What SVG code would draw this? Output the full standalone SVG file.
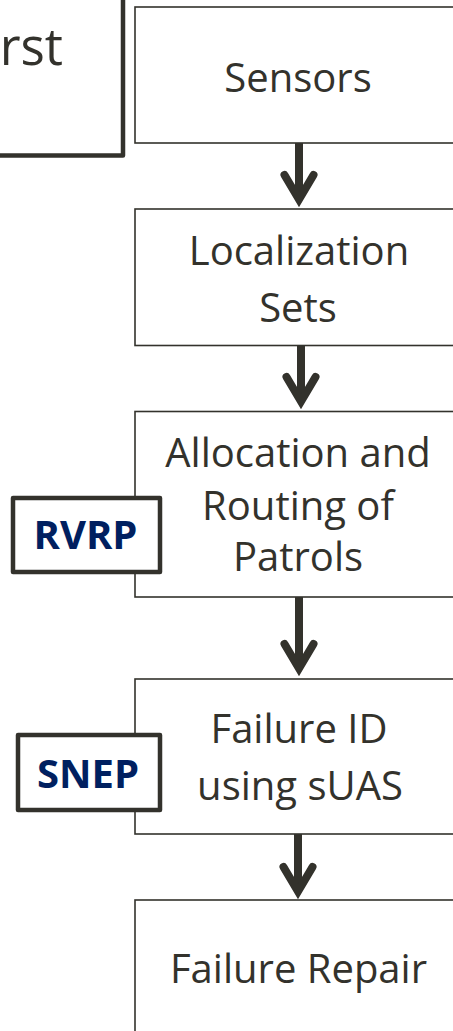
<svg xmlns="http://www.w3.org/2000/svg" width="453" height="1031" viewBox="0 0 453 1031">
<style>
.box{fill:#fff;stroke:#33322c;stroke-width:1.6}
.tag{fill:#fff;stroke:#33322c;stroke-width:4.5;stroke-linejoin:round}
.t{font-family:"Open Sans","Noto Sans",sans-serif;font-size:40px;fill:#33322c;text-anchor:middle}
.b{font-family:"Open Sans","Noto Sans",sans-serif;font-size:40px;font-weight:bold;fill:#002060;text-anchor:middle}
.shaft{stroke:#33322c;stroke-width:8;fill:none}
.head{stroke:#33322c;stroke-width:8;fill:none;stroke-linecap:round;stroke-linejoin:miter;stroke-miterlimit:10}
</style>
<rect width="453" height="1031" fill="#fff"/>
<g id="first">
<rect class="tag" x="-10" y="-10" width="133" height="165.5"/>
<text class="t" x="63" y="65" style="font-size:51px;text-anchor:end">rst</text>
</g>
<g id="sensors">
<rect class="box" x="135" y="7" width="330" height="136"/>
<text class="t" x="298" y="92">Sensors</text>
</g>
<g id="localization">
<rect class="box" x="135" y="209" width="330" height="136.5"/>
<text class="t" x="299" y="265">Localization</text>
<text class="t" x="298" y="322">Sets</text>
</g>
<g id="allocation">
<rect class="box" x="135" y="411.5" width="330" height="185.5"/>
<text class="t" x="298" y="467">Allocation and</text>
<text class="t" x="298" y="520">Routing of</text>
<text class="t" x="298" y="571">Patrols</text>
</g>
<g id="rvrp">
<rect class="tag" x="13" y="498" width="147" height="74"/>
<text class="b" x="85.5" y="549">RVRP</text>
</g>
<g id="failureid">
<rect class="box" x="135" y="679" width="330" height="155"/>
<text class="t" x="299" y="743">Failure ID</text>
<text class="t" x="300" y="800">using sUAS</text>
</g>
<g id="snep">
<rect class="tag" x="18" y="735" width="142" height="75"/>
<text class="b" x="88" y="788">SNEP</text>
</g>
<g id="repair">
<rect class="box" x="135" y="900" width="330" height="150"/>
<text class="t" x="298.5" y="983">Failure Repair</text>
</g>
<g id="connectors">
<line class="shaft" x1="299" y1="143" x2="299" y2="199"/>
<polyline class="head" points="284.5,175 299,199.5 313.5,175"/>
<line class="shaft" x1="301" y1="345.5" x2="301" y2="401"/>
<polyline class="head" points="286.5,377 301,401.5 315.5,377"/>
<line class="shaft" x1="299" y1="597" x2="299" y2="668"/>
<polyline class="head" points="284.5,644 299,668.5 313.5,644"/>
<line class="shaft" x1="298" y1="834" x2="298" y2="891"/>
<polyline class="head" points="283.5,867 298,891.5 312.5,867"/>
</g>
</svg>
